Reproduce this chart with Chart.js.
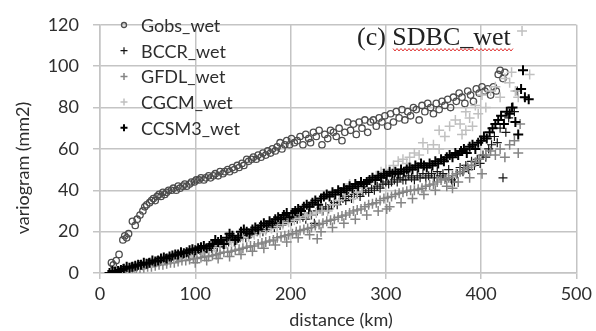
<!DOCTYPE html>
<html>
<head>
<meta charset="utf-8">
<script src="https://cdn.jsdelivr.net/npm/chart.js@4.4.1/dist/chart.umd.min.js"></script>
<style>
html,body{margin:0;padding:0;background:#fff}
#graf-vario{display:block}
</style>
</head>
<body>
<canvas id="graf-vario" width="596" height="331"></canvas>
<script>
// variogramas observados e dos modelos: [distancia (km), variograma (mm2)]
var gobsWet = [
    [12,5],[14,4],[17,6],[20,9],[24,16],[26,18],[28,17],[30,19],[34,25],[37,23],[39,26],[42,28],[45,30],[47,32],[49,33],
    [52,34],[54,35],[56,36],[58,35],[60,37],[62,38],[64,37],[66,39],[68,38],[70,39],[72,40],[75,40],[77,41],[80,40],
    [82,42],[84,41],[87,42],[89,43],[91,42],[94,43],[96,44],[99,44],[101,45],[104,45],[106,46],[109,45],[111,46],[114,47],
    [116,46],[119,47],[121,48],[124,47],[126,49],[129,48],[131,49],[134,50],[136,49],[139,51],[141,50],[144,52],[146,51],
    [149,53],[151,52],[154,55],[156,54],[159,55],[161,56],[164,55],[166,57],[169,56],[171,58],[174,57],[176,59],[179,58],
    [181,60],[184,59],[186,61],[189,63],[191,60],[194,62],[196,64],[199,62],[201,65],[204,63],[207,64],[210,66],[213,62],
    [216,67],[219,65],[221,63],[224,68],[227,66],[230,69],[233,62],[236,67],[239,65],[242,69],[245,68],[248,66],[251,70],
    [254,64],[257,68],[260,73],[263,69],[266,72],[269,67],[272,73],[275,70],[278,74],[281,68],[284,73],[287,74],[290,71],
    [293,75],[296,73],[299,76],[302,71],[305,77],[308,73],[311,78],[314,75],[317,79],[320,74],[323,78],[326,76],[329,80],
    [332,79],[335,74],[338,81],[341,78],[344,82],[347,80],[350,77],[353,82],[356,79],[359,83],[362,81],[365,84],[368,80],
    [371,85],[374,83],[377,87],[380,85],[383,82],[386,88],[389,86],[392,83],[395,89],[398,87],[401,90],[404,88],[407,89],
    [410,86],[413,90],[416,88],[418,96],[420,98],[423,94],[425,97]
]

var bccrWet = [
    [12,0],[15,1],[18,0.5],[21,1],[24,2],[27,1.5],[30,2],[33,3],[36,2.5],[39,3],[42,4],[45,3.5],[48,4],[51,5],[54,4.5],
    [57,5],[60,6],[63,5.5],[66,6],[69,7],[72,6.5],[75,7],[78,8],[81,7.5],[84,8],[87,9],[90,8.5],[93,9],[96,10],[99,9.5],
    [102,10],[105,11],[108,10.5],[111,12],[114,11],[117,12],[120,13],[123,12.5],[126,13],[129,14],[132,14],[135,15],
    [138,16],[141,15],[144,16],[147,17],[150,18],[153,17],[156,18],[159,19],[162,19],[165,20],[168,21],[171,20],[174,21],
    [177,22],[180,23],[183,22],[186,24],[189,23],[192,24],[195,25],[198,26],[201,25],[204,27],[207,26],[210,28],[213,27],
    [216,26],[219,29],[222,28],[225,24],[228,30],[231,31],[234,30],[237,32],[240,31],[243,33],[246,34],[249,33],[252,35],
    [255,36],[258,35],[261,37],[264,36],[267,38],[270,38],[273,37],[276,39],[279,40],[282,39],[285,41],[288,40],[291,42],
    [294,41],[297,43],[300,44],[303,43],[306,44],[309,45],[312,44],[315,46],[318,45],[321,45],[324,47],[327,46],[330,45],
    [333,47],[336,46],[339,48],[342,46],[345,47],[348,48],[351,46],[354,49],[357,47],[360,48],[363,46],[366,50],[369,45],
    [372,44],[375,48],[378,51],[381,49],[384,52],[387,50],[390,54],[393,52],[396,55],[399,53],[402,57],[405,56],[408,60],
    [411,62],[414,66],[417,63],[420,70],[423,46],[426,68],[429,75],[432,80],[435,78],[438,88]
]

var gfdlWet = [
    [14,0],[18,0.5],[22,0.5],[26,1],[30,1],[34,1.5],[38,2],[42,2],[46,2.5],[50,3],[54,3],[58,3.5],[62,4],[66,4],[70,4.5],
    [74,5],[78,5],[82,5.5],[86,6],[90,6],[94,6.5],[98,7],[102,7],[106,7.5],[110,8],[114,8],[118,8.5],[122,9],[126,9.5],
    [130,10],[134,10],[138,10.5],[142,11],[146,11.5],[150,12],[154,12.5],[158,13],[162,13],[166,14],[170,14.5],[174,15],
    [178,15.5],[182,16],[186,17],[190,17.5],[194,18],[198,18.5],[202,19],[206,20],[210,20.5],[214,21],[218,21.5],[222,22],
    [226,23],[228,16.5],[230,23.5],[234,24],[238,25],[242,25.5],[246,26],[250,27],[254,27.5],[258,28],[262,29],[266,30],
    [270,30.5],[274,31],[278,32],[282,33],[286,33.5],[290,34],[294,35],[298,36],[301,31],[302,36.5],[306,37],[310,38],
    [314,38.5],[318,39],[322,39.5],[326,40],[330,40],[334,40.5],[338,41],[342,42],[346,42.5],[350,43],[354,44],[358,45],
    [362,45.5],[366,46],[370,41],[370,47],[374,48],[378,49],[382,50],[386,51],[390,52],[394,53.5],[398,55],[401,48],
    [405,57],[410,59],[415,57],[420,60],[425,56],[430,62],[435,64],[439,58],[441,72],
    [100,5],[112,6],[124,7],[136,8],[148,9],[160,10.5],[172,12],[184,13.5],[196,15],[208,17],[220,18.5],[232,20],[244,22],
    [256,24],[268,26],[280,28],[292,30],[304,32],[316,34],[328,36],[340,38],[352,40],[364,42],[376,44],[388,46]
]

var cgcmWet = [
    [12,0],[18,1],[24,1.5],[30,2.5],[36,3],[42,3.5],[48,4.5],[54,5],[60,5.5],[66,6.5],[72,7],[78,7.5],[84,8.5],[90,9],
    [96,9.5],[102,10.5],[108,11],[114,12],[120,12.5],[126,13.5],[132,14],[138,15],[144,16],[150,17],[156,17.5],[162,18.5],
    [168,19.5],[174,20.5],[180,21.5],[186,22.5],[192,23.5],[198,24.5],[204,25.5],[210,26.5],[216,27.5],[221,28],[227,29],
    [233,30],[239,30],[245,33],[251,35],[257,38],[262,43],[266,36],[270,39],[275,41],[280,44],[285,45],[290,47],[295,49],
    [300,50],[304,48],[308,52],[313,54],[318,55],[322,53],[325,56],[330,58],[335,57],[339,63],[344,60],[350,62],[356,69],
    [356,60],[362,66],[367,71],[373,74],[378,72],[380,67],[384,78],[384,69],[388,75],[391,71],[394,81],[397,77],[401,86],
    [405,80],[410,88],[415,90],[420,85],[425,94],[430,92],[432,97],[436,88],[439,85],[443,117],[451,96]
]

var ccsm3Wet = [
    [10,0],[13,1],[16,0.5],[19,1],[22,1.5],[25,2],[28,3],[31,2.5],[34,3],[37,3.5],[40,4],[43,4],[46,5],[49,4.5],[52,5],
    [55,6],[58,5.5],[61,6],[64,7],[67,7.5],[70,7],[73,8],[76,8.5],[79,9],[82,9],[85,10],[88,9.5],[91,10],[94,11],[97,11.5],
    [100,11],[103,12],[106,12.5],[109,13],[112,12],[115,13],[118,14],[121,16],[124,15],[127,16],[130,14],[133,17],[136,19],
    [139,18],[142,16],[145,17],[148,20],[151,21],[154,20],[157,19],[160,21],[163,22],[166,21],[169,23],[172,24],[175,23],
    [178,25],[181,24],[184,26],[187,27],[190,26],[193,28],[196,29],[199,27],[202,29],[205,30],[208,31],[211,30],[214,32],
    [217,33],[220,32],[223,34],[226,35],[229,33],[232,36],[235,37],[238,38],[241,37],[244,39],[247,38],[250,40],[253,39],
    [256,41],[259,40],[262,42],[265,41],[268,43],[271,42],[274,44],[277,43],[280,44],[283,45],[286,46],[289,45],[292,47],
    [295,46],[298,48],[301,47],[304,49],[307,48],[310,49],[313,48],[316,50],[319,49],[322,50],[325,51],[328,50],[331,52],
    [334,51],[337,53],[340,52],[343,51],[346,53],[349,52],[352,54],[355,53],[358,55],[361,54],[364,56],[367,57],[370,56],
    [373,58],[376,57],[379,59],[382,60],[385,58],[388,61],[391,62],[394,60],[397,63],[400,64],[403,66],[406,65],[409,68],
    [412,70],[415,72],[418,74],[421,76],[424,72],[427,78],[430,77],[433,80],[436,73],[439,67],[442,89],[444,98],[446,85],
    [450,84]
]

var nomesSeries = ['Gobs_wet','BCCR_wet','GFDL_wet','CGCM_wet','CCSM3_wet']
var ticksDistancia = [0,100,200,300,400,500]
var ticksVariograma = [0,20,40,60,80,100,120]

var fonte = 'Lato, "Open Sans", sans-serif'
var corTexto = '#2e2e2e'
var corGrade = '#c4c4c4'

// estilo de cada serie (marcador, cor, espessura)
var estilos = [
    {pointStyle:'circle', radius:3.2, borderColor:'#4d4d4d', borderWidth:1.3, backgroundColor:'rgba(0,0,0,0)'},
    {pointStyle:'cross', radius:4.5, borderColor:'#151515', borderWidth:1.2, backgroundColor:'#151515'},
    {pointStyle:'cross', radius:5, borderColor:'#858585', borderWidth:1.5, backgroundColor:'#858585'},
    {pointStyle:'cross', radius:5, borderColor:'#c0c0c0', borderWidth:1.5, backgroundColor:'#c0c0c0'},
    {pointStyle:'cross', radius:5, borderColor:'#000', borderWidth:2, backgroundColor:'#000'}
]

/**
 * desenha legenda, titulo e titulos dos eixos por cima do grafico
 */
var extras = {
    id: 'extras',
    afterDraw: function(chart){
        var ctx = chart.ctx
        ctx.save()

        //legenda dentro da area do grafico
        ctx.font = '18px ' + fonte
        ctx.textBaseline = 'middle'
        ctx.textAlign = 'left'
        nomesSeries.forEach(function(nome, i){
            var y = 25 + i * 25.7
            var x = 124
            var est = estilos[i]
            ctx.strokeStyle = est.borderColor
            ctx.lineWidth = est.borderWidth
            ctx.beginPath()
            if(est.pointStyle == 'circle'){
                ctx.arc(x, y, 2.5, 0, Math.PI * 2)
            }else{
                ctx.moveTo(x - 3.5, y); ctx.lineTo(x + 3.5, y)
                ctx.moveTo(x, y - 3.5); ctx.lineTo(x, y + 3.5)
            }
            ctx.stroke()
            ctx.fillStyle = corTexto
            ctx.fillText(nome, 141, y + 1)
        })

        //titulo do painel
        ctx.font = '26px "Liberation Serif", serif'
        ctx.fillStyle = '#222'
        ctx.textBaseline = 'alphabetic'
        ctx.fillText('(c) SDBC_wet', 357, 45)

        //sublinhado ondulado vermelho
        ctx.strokeStyle = '#e03a3a'
        ctx.lineWidth = 1
        ctx.beginPath()
        var sobe = true
        for(var xx = 393; xx <= 513; xx += 2){
            var yy = sobe ? 48.5 : 51
            sobe = !sobe
            if(xx == 393) ctx.moveTo(xx, yy)
            else ctx.lineTo(xx, yy)
        }
        ctx.stroke()

        //titulos dos eixos
        ctx.fillStyle = corTexto
        ctx.font = '18px ' + fonte
        ctx.textAlign = 'center'
        ctx.textBaseline = 'middle'
        ctx.fillText('distance (km)', 341, 320)

        ctx.translate(23, 168)
        ctx.rotate(-Math.PI / 2)
        ctx.fillText('variogram (mm2)', 0, 0)

        ctx.restore()
    }
}

function montaDatasets(){
    var series = [gobsWet, bccrWet, gfdlWet, cgcmWet, ccsm3Wet]
    return series.map(function(serie, i){
        var est = estilos[i]
        return {
            label: nomesSeries[i],
            data: serie.map(function(p){ return {x: p[0], y: p[1]} }),
            pointStyle: est.pointStyle,
            pointRadius: est.radius,
            pointBorderColor: est.borderColor,
            pointBackgroundColor: est.backgroundColor,
            pointBorderWidth: est.borderWidth,
            pointHoverRadius: est.radius,
            showLine: false,
            order: 5 - i
        }
    })
}

try{
    new Chart(
        document.getElementById('graf-vario').getContext('2d'),
        {
            type: 'scatter',
            data: { datasets: montaDatasets() },
            options: {
                responsive: false,
                animation: false,
                layout: { padding: { top: 13, right: 14, bottom: 0, left: 0 } },
                plugins: {
                    legend: { display: false },
                    title: { display: false },
                    tooltip: { enabled: false }
                },
                scales: {
                    x: {
                        type: 'linear',
                        min: 0,
                        max: 500,
                        afterBuildTicks: function(s){ s.ticks = ticksDistancia.map(function(v){ return {value: v} }) },
                        afterFit: function(s){ s.height = 58 },
                        grid: { color: corGrade, lineWidth: 1.5, tickLength: 6, tickColor: corGrade },
                        border: { color: corGrade, width: 1.5 },
                        ticks: { color: corTexto, font: { family: fonte, size: 18 }, padding: 4, maxRotation: 0 }
                    },
                    y: {
                        type: 'linear',
                        min: 0,
                        max: 120,
                        afterBuildTicks: function(s){ s.ticks = ticksVariograma.map(function(v){ return {value: v} }) },
                        afterFit: function(s){ s.width = 100 },
                        grid: { color: corGrade, lineWidth: 1.5, tickLength: 7, tickColor: corGrade },
                        border: { color: corGrade, width: 1.5 },
                        ticks: { color: corTexto, font: { family: fonte, size: 18 }, padding: 14 }
                    }
                }
            },
            plugins: [extras]
        }
    )
}catch(e){console.error(e)}
</script>
</body>
</html>
